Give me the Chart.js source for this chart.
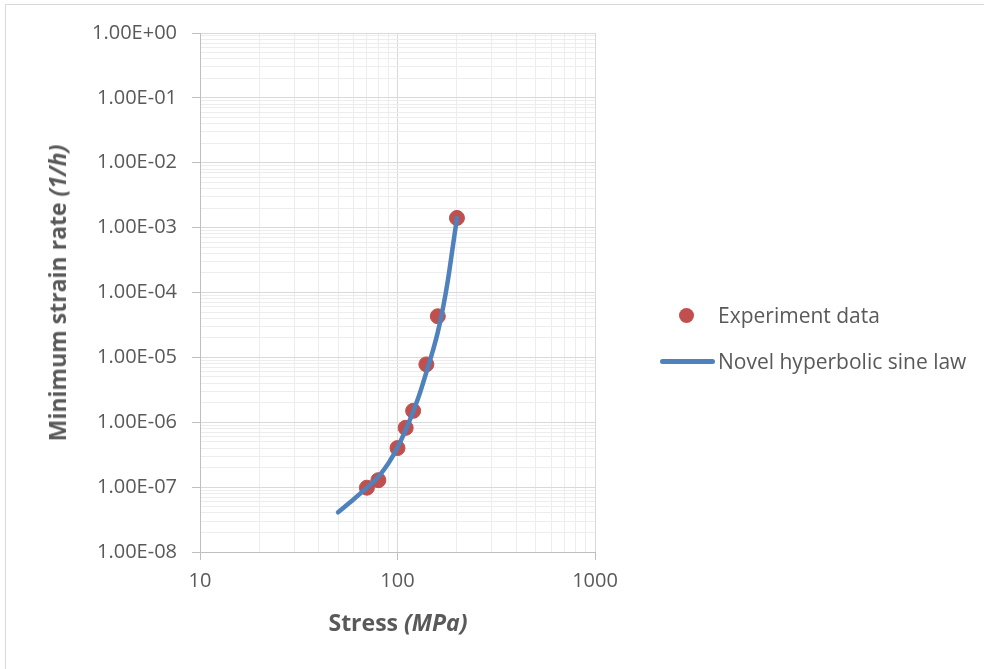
<!DOCTYPE html>
<html lang="en">
<head>
  <meta charset="UTF-8">
  <title>Minimum strain rate vs stress</title>
  <script src="https://cdn.jsdelivr.net/npm/chart.js"></script>
  <style>
    body { margin: 0; background: #fff; }
    #wrap { position: relative; width: 984px; height: 669px; overflow: hidden; font-family: "Open Sans", sans-serif; color: #595959; }
    #frame { position: absolute; left: 5px; top: 4px; right: -2px; bottom: -2px; border-top: 1px solid #d9d9d9; border-left: 1px solid #d9d9d9; }
    canvas { position: absolute; left: 0; top: 0; }
    .ytitle { position: absolute; left: 57px; top: 293px; transform: translate(-50%, -50%) rotate(-90deg); white-space: nowrap; font-weight: bold; font-size: 23px; }
    .xtitle { position: absolute; left: 398px; top: 622px; transform: translate(-50%, -50%); white-space: nowrap; font-weight: bold; font-size: 23px; }
    .legend { position: absolute; left: 660px; top: 300px; font-size: 21px; }
    .legend div { position: relative; height: 46px; line-height: 30px; padding-left: 58px; white-space: nowrap; }
    .dot { position: absolute; left: 19px; top: 8px; width: 15px; height: 15px; border-radius: 50%; background: #c0504d; }
    .line { position: absolute; left: 0; top: 13px; width: 55px; height: 5px; border-radius: 3px; background: #4f81bd; }
  </style>
</head>
<body>
  <div id="wrap">
    <div id="frame"></div>
    <canvas id="chartCanvas" width="984" height="669"></canvas>
    <div class="ytitle">Minimum strain rate <i>(1/h)</i></div>
    <div class="xtitle">Stress <i>(MPa)</i></div>
    <div class="legend">
      <div><span class="dot"></span>Experiment data</div>
      <div><span class="line"></span>Novel hyperbolic sine law</div>
    </div>
  </div>

  <script>
    // experiment points (stress MPa, min strain rate 1/h)
    const expStress = [70, 80, 100, 110, 120, 140, 160, 200];
    const expRate = [9.8e-8, 1.28e-7, 4.0e-7, 8.2e-7, 1.5e-6, 7.8e-6, 4.3e-5, 1.41e-3];

    // model curve
    const lawStress = [50, 60, 70, 80, 90, 100, 110, 120, 130, 140, 150, 160, 170, 180, 190, 200];
    const lawRate = [4.1e-8, 6.5e-8, 9.8e-8, 1.45e-7, 2.33e-7, 4.1e-7, 7.6e-7, 1.46e-6, 2.85e-6, 5.9e-6, 1.18e-5, 2.45e-5, 5.8e-5, 1.55e-4, 4.8e-4, 1.41e-3];

    const xMin = 10, xMax = 1000;
    const yMin = 1e-8, yMax = 1;

    function logTicks(lo, hi) {
      const out = [];
      for (let p = Math.round(Math.log10(lo)); p < Math.round(Math.log10(hi)); p++) {
        for (let m = 1; m < 10; m++) out.push(m * Math.pow(10, p));
      }
      out.push(hi);
      return out;
    }

    function isMajor(v) {
      const l = Math.log10(v);
      return Math.abs(l - Math.round(l)) < 1e-9;
    }

    const gridColor = ctx => (ctx.tick && isMajor(ctx.tick.value)) ? '#d9d9d9' : '#ededed';
    const tickColor = ctx => (ctx.tick && isMajor(ctx.tick.value)) ? '#bfbfbf' : 'rgba(0,0,0,0)';

    const ctx = document.getElementById('chartCanvas').getContext('2d');
    new Chart(ctx, {
      type: 'scatter',
      data: {
        datasets: [
          {
            label: 'Novel hyperbolic sine law',
            data: lawStress.map((s, i) => ({ x: s, y: lawRate[i] })),
            showLine: true,
            borderColor: '#4f81bd',
            borderWidth: 4.5,
            pointRadius: 0,
            tension: 0.4,
            cubicInterpolationMode: 'monotone',
            borderCapStyle: 'round',
            order: 1
          },
          {
            label: 'Experiment data',
            data: expStress.map((s, i) => ({ x: s, y: expRate[i] })),
            backgroundColor: '#c0504d',
            borderColor: '#c0504d',
            pointRadius: 7.5,
            order: 2
          }
        ]
      },
      options: {
        responsive: false,
        animation: false,
        layout: { padding: { left: 0, top: 33, right: 389, bottom: 0 } },
        plugins: { legend: { display: false }, tooltip: { enabled: false } },
        scales: {
          x: {
            type: 'logarithmic',
            min: xMin,
            max: xMax,
            afterBuildTicks: s => { s.ticks = logTicks(xMin, xMax).map(v => ({ value: v })); },
            afterFit: s => { s.height = 117; },
            ticks: {
              autoSkip: false,
              maxRotation: 0,
              padding: 9,
              color: '#595959',
              font: { family: 'Open Sans', size: 20 },
              callback: v => isMajor(v) ? String(Math.round(v)) : ''
            },
            grid: { color: gridColor, tickColor: tickColor, tickLength: 8, lineWidth: 1 },
            border: { color: '#bfbfbf', width: 1 }
          },
          y: {
            type: 'logarithmic',
            min: yMin,
            max: yMax,
            afterBuildTicks: s => { s.ticks = logTicks(yMin, yMax).map(v => ({ value: v })); },
            afterFit: s => { s.width = 200; },
            ticks: {
              autoSkip: false,
              padding: 15,
              color: '#595959',
              font: { family: 'Open Sans', size: 20 },
              callback: v => isMajor(v) ? Number(v).toExponential(2).toUpperCase().replace(/E([+-])(\d)$/, 'E$10$2') : ''
            },
            grid: { color: gridColor, tickColor: tickColor, tickLength: 8, lineWidth: 1 },
            border: { color: '#bfbfbf', width: 1 }
          }
        }
      }
    });
  </script>
</body>
</html>
